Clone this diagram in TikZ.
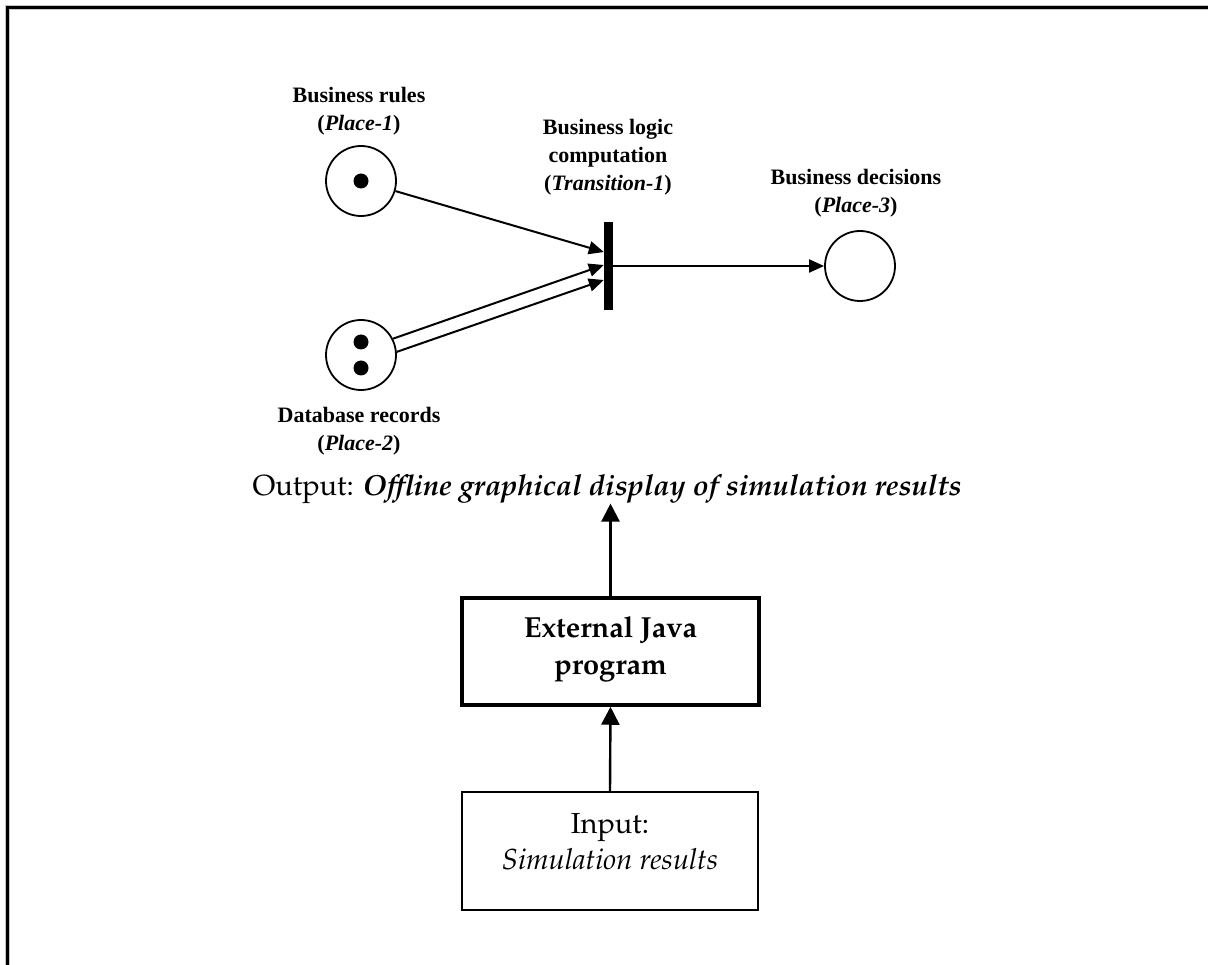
\documentclass[tikz,border=0pt]{standalone}
\usepackage[T1]{fontenc}
\usepackage{fontspec}
\usetikzlibrary{arrows.meta,calc}
\newfontfamily\petrifont{Liberation Serif}
\newcommand\palfont{\fontencoding{T1}\fontfamily{ppl}\selectfont}
\tikzset{
  place/.style={circle, draw, line width=1.8pt, minimum size=70pt, inner sep=0pt},
  token/.style={circle, fill, minimum size=15pt, inner sep=0pt},
  bar/.style={rectangle, fill, minimum width=9pt, minimum height=88pt, inner sep=0pt},
  arc/.style={line width=2pt, -{Triangle[length=15pt,width=13pt]}},
  flow/.style={line width=2.4pt, -{Triangle[length=18pt,width=18pt]}},
  lbl/.style={font=\petrifont\bfseries\fontsize{22}{28}\selectfont, align=center, inner sep=0pt},
  txt/.style={font=\palfont\fontsize{29}{36}\selectfont, align=center, inner sep=0pt},
  javabox/.style={rectangle, draw, line width=3.5pt, minimum width=297pt, minimum height=107pt, inner sep=0pt},
  inbox/.style={rectangle, draw, line width=2pt, minimum width=296pt, minimum height=118pt, inner sep=0pt}
}
\begin{document}
\begin{tikzpicture}[x=1pt, y=-1pt]
\useasboundingbox (0,0) rectangle (1208,965);
% frame along the top and left edges
\draw[gray!45, line width=5pt] (7,965) -- (7,8) -- (1208,8);
\draw[line width=3pt] (7,965) -- (7,8) -- (1208,8);

% Petri net: places, transition and tokens
\node[place] (p1) at (361,181) {};
\node[place] (p2) at (361,355) {};
\node[place] (p3) at (860,266) {};
\node[bar] (t1) at (608.5,266) {};
\node[token] (k1) at (361,181) {};
\node[token] (k2) at (361,342) {};
\node[token] (k3) at (361,368) {};

% arcs
\draw[arc] (p1) -- ($(t1.west)+(0,-14)$);
\draw[arc] (p2.27) -- ($(t1.west)+(0,-1)$);
\draw[arc] (p2.5) -- ($(t1.west)+(0,14)$);
\draw[arc] (t1.east) -- (p3);

% labels of the net
\node[lbl] (l1) at (359,111) {Business rules\\(\textit{Place-1})};
\node[lbl] (l2) at (608,157) {Business logic\\computation\\(\textit{Transition-1})};
\node[lbl] (l3) at (856,193) {Business decisions\\(\textit{Place-3})};
\node[lbl] (l4) at (359,431) {Database records\\(\textit{Place-2})};

% processing chain
\node[txt] (out) at (607,489) {Output: \textit{\bfseries Offline graphical display of simulation results}};
\node[javabox] (java) at (610.5,651.5) {};
\node[txt, font=\palfont\bfseries\fontsize{29}{37}\selectfont] (javat) at (610.5,649) {External Java\\program};
\node[inbox] (inp) at (610,851) {};
\node[txt] (inpt) at (610,842) {Input:\\\textit{Simulation results}};

\draw[flow] (java.north) -- (out.south -| java.north);
\draw[flow] (inp.north) -- (java.south);
\end{tikzpicture}
\end{document}
